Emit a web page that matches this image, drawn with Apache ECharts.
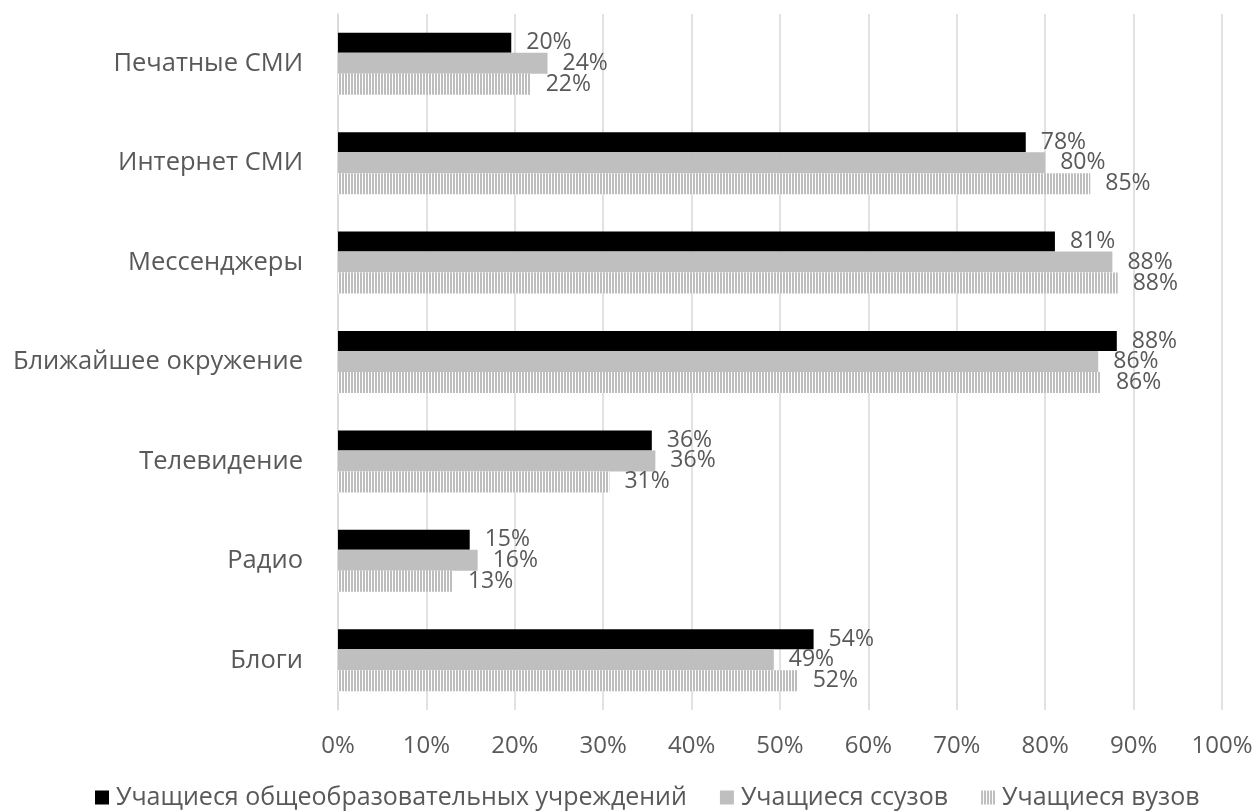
<!DOCTYPE html>
<html><head><meta charset="utf-8">
<script src="https://cdn.jsdelivr.net/npm/echarts@6/dist/echarts.min.js"></script>
<style>html,body{margin:0;padding:0;background:#fff}#c{width:1258px;height:812px}</style>
</head><body><div id="c"></div>
<script>
const categories = ['Печатные СМИ','Интернет СМИ','Мессенджеры','Ближайшее окружение','Телевидение','Радио','Блоги'];
const seriesNames = ['Учащиеся общеобразовательных учреждений','Учащиеся ссузов','Учащиеся вузов'];
const school = [19.6, 77.8, 81.1, 88.1, 35.5, 14.9, 53.8];
const college = [23.7, 80.0, 87.6, 86.0, 35.9, 15.8, 49.3];
const university = [21.8, 85.1, 88.2, 86.3, 30.7, 13.0, 52.0];
const xTicks = [0,10,20,30,40,50,60,70,80,90,100];

const cv = document.createElement('canvas');
cv.width = 3; cv.height = 4;
const cx = cv.getContext('2d');
cx.fillStyle = '#ffffff'; cx.fillRect(0,0,3,4);
cx.fillStyle = '#bdbdbd'; cx.fillRect(0,0,2,4);
const hatch = {image: cv, repeat: 'repeat'};

const font = '"Open Sans", "Noto Sans", sans-serif';
const label = {show:true, position:'right', distance:15, color:'#595959', fontSize:23, fontFamily:font,
  formatter: p => Math.round(p.value) + '%'};

const chart = echarts.init(document.getElementById('c'), null, {renderer:'canvas'});
chart.setOption({
  animation:false,
  grid:{left:338, right:36, top:14, bottom:102},
  legend:{top:780, left:90, itemWidth:14, itemHeight:14, itemGap:33,
    textStyle:{color:'#595959', fontSize:25, fontFamily:font, padding:[0,0,0,2]},
    data:[{name:seriesNames[0], icon:'rect'},{name:seriesNames[1], icon:'rect', itemStyle:{color:'#bfbfbf'}},{name:seriesNames[2], icon:'rect'}]},
  xAxis:{type:'value', min:0, max:100, interval:10,
    axisLabel:{formatter: v => v + '%', color:'#595959', fontSize:24, fontFamily:font, margin:24},
    axisLine:{show:false}, axisTick:{show:false},
    splitLine:{lineStyle:{color:'#d9d9d9', width:1.5}}},
  yAxis:{type:'category', data:categories, inverse:true,
    axisLabel:{color:'#595959', fontSize:25.5, fontFamily:font, margin:35},
    axisLine:{show:true, lineStyle:{color:'#d9d9d9', width:1.5}}, axisTick:{show:false}},
  series:[
    {name:seriesNames[0], type:'bar', data:school, barWidth:20, barGap:'0%', itemStyle:{color:'#000000'}, label:label},
    {name:seriesNames[1], type:'bar', data:college, barWidth:21, barGap:'0%', itemStyle:{color:'#bfbfbf'}, label:label},
    {name:seriesNames[2], type:'bar', data:university, barWidth:21, barGap:'0%', itemStyle:{color:hatch}, label:label}
  ]
});
</script></body></html>
